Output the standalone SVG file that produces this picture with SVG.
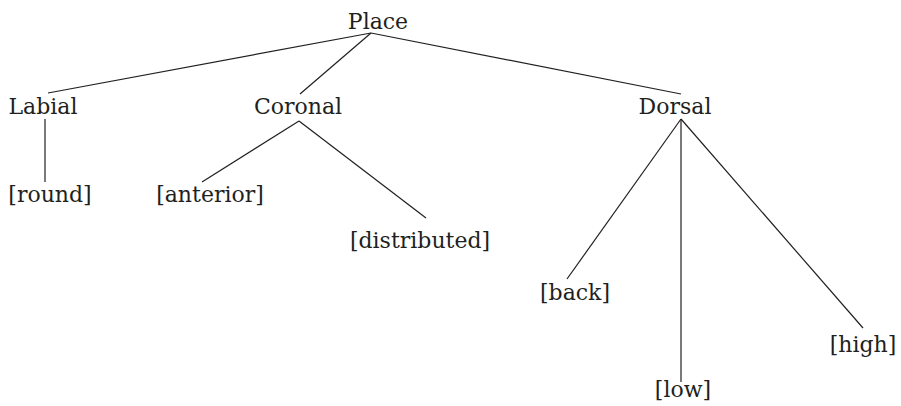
<svg xmlns="http://www.w3.org/2000/svg" width="901" height="406" viewBox="0 0 901 406">
<style>
text{font-family:"DejaVu Serif","Liberation Serif",serif;font-size:22px;fill:#231f20;text-anchor:middle}
line{stroke:#231f20;stroke-width:1.2}
</style>
<rect width="901" height="406" fill="#fff"/>
<g id="connectors">
<line x1="371" y1="33" x2="48" y2="93"/>
<line x1="371" y1="33" x2="300" y2="94"/>
<line x1="371" y1="33" x2="681" y2="94"/>
<line x1="45" y1="119" x2="45" y2="182"/>
<line x1="299" y1="121" x2="202" y2="182"/>
<line x1="299" y1="121" x2="426" y2="218"/>
<line x1="681" y1="119" x2="567" y2="279"/>
<line x1="681" y1="119" x2="681" y2="382"/>
<line x1="681" y1="119" x2="863" y2="328"/>
</g>
<g id="place"><text x="378" y="29">Place</text></g>
<g id="labial"><text x="43" y="114">Labial</text></g>
<g id="coronal"><text x="298" y="114">Coronal</text></g>
<g id="dorsal"><text x="675" y="114">Dorsal</text></g>
<g id="round"><text x="50" y="202">[round]</text></g>
<g id="anterior"><text x="210" y="202">[anterior]</text></g>
<g id="distributed"><text x="420" y="248">[distributed]</text></g>
<g id="back"><text x="575" y="300">[back]</text></g>
<g id="low"><text x="683" y="397">[low]</text></g>
<g id="high"><text x="863" y="352">[high]</text></g>
</svg>
